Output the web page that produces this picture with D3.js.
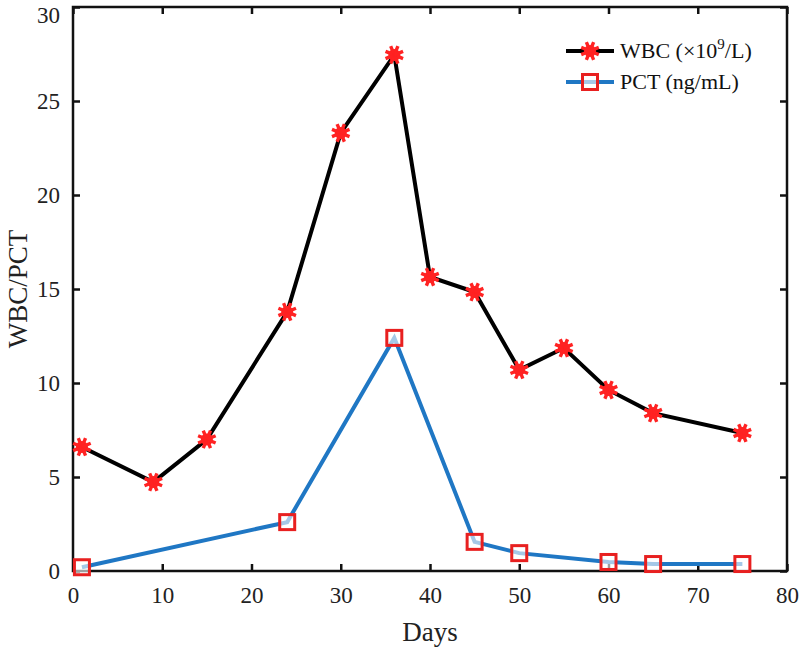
<!DOCTYPE html>
<html><head><meta charset="utf-8">
<script src="https://cdn.jsdelivr.net/npm/d3@7"></script>
<style>body{margin:0;background:#fff}</style>
</head><body>
<svg id="c" width="800" height="661"></svg>
<script>
const wbcDays = [1, 9, 15, 24, 30, 36, 40, 45, 50, 55, 60, 65, 75];
const wbcValues = [6.6, 4.73, 7.0, 13.78, 23.3, 27.45, 15.64, 14.84, 10.7, 11.86, 9.63, 8.4, 7.34];
const pctDays = [1, 24, 36, 45, 50, 60, 65, 75];
const pctValues = [0.2, 2.6, 12.4, 1.55, 0.95, 0.48, 0.37, 0.37];
const xTicks = [0, 10, 20, 30, 40, 50, 60, 70, 80];
const yTicks = [0, 5, 10, 15, 20, 25, 30];
const seriesNames = ["WBC (\u00d710", "PCT (ng/mL)"];

const svg = d3.select("#c");
const L = 73, R = 787, T = 7, B = 571;
const x = d3.scaleLinear().domain([0, 80]).range([L, R]);
const y = d3.scaleLinear().domain([0, 30]).range([B, T]);
const font = "'Liberation Serif', 'Times New Roman', serif";

// box
svg.append("rect").attr("x", L).attr("y", T).attr("width", R - L).attr("height", B - T)
  .attr("fill", "none").attr("stroke", "#111").attr("stroke-width", 2.5);

// axes
const tl = 7;
const xb = svg.append("g").attr("transform", `translate(0,${B})`)
  .call(d3.axisBottom(x).tickValues(xTicks).tickSizeInner(-tl).tickSizeOuter(0).tickPadding(16));
const yl = svg.append("g").attr("transform", `translate(${L},0)`)
  .call(d3.axisLeft(y).tickValues(yTicks).tickSizeInner(-tl).tickSizeOuter(0).tickPadding(13));
const xt = svg.append("g").attr("transform", `translate(0,${T})`)
  .call(d3.axisTop(x).tickValues(xTicks).tickSizeInner(-tl).tickSizeOuter(0).tickFormat(""));
const yr = svg.append("g").attr("transform", `translate(${R},0)`)
  .call(d3.axisRight(y).tickValues(yTicks).tickSizeInner(-tl).tickSizeOuter(0).tickFormat(""));
[xb, yl, xt, yr].forEach(g => {
  g.select(".domain").remove();
  g.selectAll("line").attr("stroke", "#111").attr("stroke-width", 2.5);
  g.selectAll("text").attr("font-family", font).attr("font-size", 23).attr("fill", "#222");
});
yl.selectAll(".tick").filter(d => d === 30).select("text").attr("dy", "0.66em");

// labels
svg.append("text").attr("x", (L + R) / 2).attr("y", 641).attr("text-anchor", "middle")
  .attr("font-family", font).attr("font-size", 27).attr("fill", "#222").text("Days");
svg.append("text").attr("transform", `translate(27,${(T + B) / 2}) rotate(-90)`).attr("text-anchor", "middle")
  .attr("font-family", font).attr("font-size", 27).attr("fill", "#222").text("WBC/PCT");

const wbc = wbcDays.map((d, i) => [d, wbcValues[i]]);
const pct = pctDays.map((d, i) => [d, pctValues[i]]);
const line = d3.line().x(d => x(d[0])).y(d => y(d[1]));

svg.append("path").datum(pct).attr("d", line).attr("fill", "none")
  .attr("stroke", "#1f77c4").attr("stroke-width", 4);
svg.append("path").datum(wbc).attr("d", line).attr("fill", "none")
  .attr("stroke", "#000").attr("stroke-width", 4);

function star(g, cx, cy) {
  const s = g.append("g").attr("transform", `translate(${cx},${cy})`);
  s.append("circle").attr("r", 6).attr("fill", "#f22");
  for (let k = 0; k < 8; k++) {
    const a = k * Math.PI / 4 + Math.PI / 8;
    s.append("line").attr("x1", 0).attr("y1", 0).attr("x2", 9.5 * Math.cos(a)).attr("y2", 9.5 * Math.sin(a))
      .attr("stroke", "#f22").attr("stroke-width", 3.4);
  }
}
function square(g, cx, cy) {
  g.append("rect").attr("x", cx - 7.5).attr("y", cy - 7.5).attr("width", 15).attr("height", 15)
    .attr("fill", "rgba(255,255,255,0.6)").attr("stroke", "#e82020").attr("stroke-width", 3);
}
const mk = svg.append("g");
pct.forEach(d => square(mk, x(d[0]), y(d[1])));
wbc.forEach(d => star(mk, x(d[0]), y(d[1])));

// legend
const lg = svg.append("g");
[[51, "#000"], [82, "#1f77c4"]].forEach(([yy, c], i) => {
  lg.append("line").attr("x1", 566).attr("x2", 614).attr("y1", yy).attr("y2", yy)
    .attr("stroke", c).attr("stroke-width", 4);
  if (i === 0) star(lg, 590, yy); else square(lg, 590, yy);
});
const t1 = lg.append("text").attr("x", 620).attr("y", 58).attr("font-family", font).attr("font-size", 22).attr("fill", "#111");
t1.append("tspan").text(seriesNames[0]);
t1.append("tspan").attr("dy", -9).attr("font-size", 15).text("9");
t1.append("tspan").attr("dy", 9).text("/L)");
lg.append("text").attr("x", 620).attr("y", 89).attr("font-family", font).attr("font-size", 22).attr("fill", "#111").text(seriesNames[1]);
</script>
</body></html>
